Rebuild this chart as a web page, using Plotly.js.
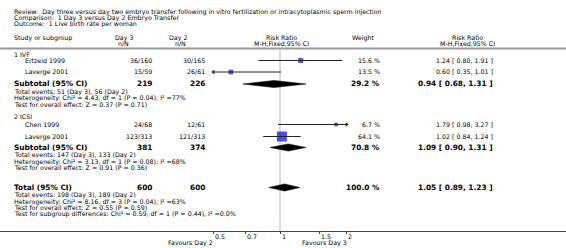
<!DOCTYPE html>
<html><head><meta charset="utf-8">
<script src="https://cdn.plot.ly/plotly-3.0.1.min.js"></script>
<style>html,body{margin:0;padding:0;background:#fff}#chart{width:566px;height:248px}</style>
</head><body><div id="chart"></div>
<script>
// ---- data ----
const titleLines = ["Review:  Day three versus day two embryo transfer following in vitro fertilization or intracytoplasmic sperm injection",
  "Comparison:  1 Day 3 versus Day 2 Embryo Transfer",
  "Outcome:  1 Live birth rate per woman"];
const groupNames = ["1 IVF", "2 ICSI"];
const studyNames = ["Ertzeid 1999", "Laverge 2001", "Chen 1999", "Laverge 2001"];
const studyGroup = [0, 0, 1, 1];
const day3nN = ["36/160", "15/59", "24/68", "123/313"];
const day2nN = ["30/165", "26/61", "12/61", "121/313"];
const studyWeight = [15.6, 13.5, 6.7, 64.1];
const studyRR = [1.24, 0.60, 1.79, 1.02];
const studyLo = [0.80, 0.35, 0.98, 0.84];
const studyHi = [1.91, 1.01, 3.27, 1.24];
const subN3 = [219, 381];
const subN2 = [226, 374];
const subWeight = [29.2, 70.8];
const subRR = [0.94, 1.09];
const subLo = [0.68, 0.90];
const subHi = [1.31, 1.31];
const subNotes = [
  ["Total events: 51 (Day 3), 56 (Day 2)", "Heterogeneity: Chi² = 4.43, df = 1 (P = 0.04); I² =77%", "Test for overall effect: Z = 0.37 (P = 0.71)"],
  ["Total events: 147 (Day 3), 133 (Day 2)", "Heterogeneity: Chi² = 3.13, df = 1 (P = 0.08); I² =68%", "Test for overall effect: Z = 0.91 (P = 0.36)"]
];
const totN3 = 600, totN2 = 600, totWeight = 100.0, totRR = 1.05, totLo = 0.89, totHi = 1.23;
const totNotes = ["Total events: 198 (Day 3), 189 (Day 2)", "Heterogeneity: Chi² = 8.16, df = 3 (P = 0.04); I² =63%",
  "Test for overall effect: Z = 0.55 (P = 0.59)", "Test for subgroup differences: Chi² = 0.59, df = 1 (P = 0.44), I² =0.0%"];
const tickVals = [0.5, 0.7, 1, 1.5, 2];
const tickLabels = ["0.5", "0.7", "1", "1.5", "2"];
const favLeft = "Favours Day 2", favRight = "Favours Day 3";

// ---- layout helpers ----
const W = 566, H = 248, AXY = 231;
const FONT = "DejaVu Sans, Verdana, sans-serif";
const fs = 6.3, fsB = 7.4;
const XMIN = 0.5, XMAX = 2;
const ann = [];
function txt(t, px, py, anchor, size, bold) {
  ann.push({text: bold ? "<b>" + t + "</b>" : t, xref: "paper", yref: "paper", x: px / W, y: 1 - py / H,
    xanchor: anchor, yanchor: "middle", showarrow: false, borderpad: 0,
    font: {family: FONT, size: size || fs, color: "#000"}});
}
const fmt = (v) => v.toFixed(2);
const rrText = (r, l, h) => fmt(r) + " [ " + fmt(l) + ", " + fmt(h) + " ]";
const COL = {name0: 13, name1: 24, d3: 153, d2: 206, w: 381, rr: 494};

// row positions (pixel rows from top)
const studyY = [60.5, 72, 124.5, 136.5];
const groupY = [54.5, 116.5];
const subY = [84, 147.5];
const totY = 187.5;
const noteOff = 7.8, noteStep = 6.3;

titleLines.forEach((t, i) => txt(t, 13, 11.5 + i * 6.4, "left", 6.3));
txt("Study or subgroup", 13, 37.5, "left");
txt("Day 3", 124, 37.5, "center"); txt("n/N", 123, 43.3, "center");
txt("Day 2", 178, 37.5, "center"); txt("n/N", 180, 43.3, "center");
txt("Risk Ratio", 281, 37.5, "center"); txt("M-H,Fixed,95% CI", 281, 43.3, "center");
txt("Weight", 363, 37.5, "center");
txt("Risk Ratio", 467, 37.5, "center"); txt("M-H,Fixed,95% CI", 467, 43.3, "center");

groupNames.forEach((g, i) => txt(g, COL.name0, groupY[i], "left"));
studyNames.forEach((s, i) => {
  const y = studyY[i];
  txt(s, COL.name1, y, "left");
  txt(day3nN[i], COL.d3, y, "right");
  txt(day2nN[i], COL.d2, y, "right");
  txt(studyWeight[i].toFixed(1) + " %", COL.w, y, "right");
  txt(rrText(studyRR[i], studyLo[i], studyHi[i]), COL.rr, y, "right");
});
subN3.forEach((n, i) => {
  const y = subY[i];
  txt("Subtotal (95% CI)", COL.name0, y, "left", fsB, true);
  txt(String(n), COL.d3, y, "right", fsB, true);
  txt(String(subN2[i]), COL.d2, y, "right", fsB, true);
  txt(subWeight[i].toFixed(1) + " %", COL.w, y, "right", fsB, true);
  txt(rrText(subRR[i], subLo[i], subHi[i]), COL.rr, y, "right", fsB, true);
  subNotes[i].forEach((t, k) => txt(t, COL.name0, y + noteOff + k * noteStep, "left"));
});
txt("Total (95% CI)", COL.name0, totY, "left", fsB, true);
txt(String(totN3), COL.d3, totY, "right", fsB, true);
txt(String(totN2), COL.d2, totY, "right", fsB, true);
txt(totWeight.toFixed(1) + " %", COL.w, totY, "right", fsB, true);
txt(rrText(totRR, totLo, totHi), COL.rr, totY, "right", fsB, true);
totNotes.forEach((t, k) => txt(t, COL.name0, totY + noteOff + k * noteStep, "left"));
txt(favLeft, 190, 243, "center");
txt(favRight, 324, 243, "center");
// tick labels placed on the x scale, just right of each tick
tickVals.forEach((v, i) => ann.push({text: tickLabels[i], xref: "x", yref: "paper", x: Math.log10(v), y: 1 - 236.8 / H,
  xanchor: "left", yanchor: "middle", xshift: 0.5, showarrow: false, borderpad: 0,
  font: {family: FONT, size: fs, color: "#000"}}));

// ---- traces ----
const clip = (v) => Math.min(XMAX, Math.max(XMIN, v));
const ciX = [], ciY = [], arrL = {x: [], y: []}, arrR = {x: [], y: []};
studyRR.forEach((r, i) => {
  ciX.push(clip(studyLo[i]), clip(studyHi[i]), null);
  ciY.push(studyY[i], studyY[i], null);
  if (studyLo[i] < XMIN) { arrL.x.push(XMIN); arrL.y.push(studyY[i]); }
  if (studyHi[i] > XMAX) { arrR.x.push(XMAX); arrR.y.push(studyY[i]); }
});
const traces = [];
traces.push({type: "scatter", mode: "markers", x: studyRR, y: studyY, hoverinfo: "skip",
  marker: {symbol: "square", color: "#0000ff", size: studyWeight.map(w => Math.max(3.6, 1.25 * Math.sqrt(w))),
    line: {width: 0}}});
traces.push({type: "scatter", mode: "lines", x: ciX, y: ciY, hoverinfo: "skip",
  line: {color: "#222", width: 1}});
traces.push({type: "scatter", mode: "markers", x: arrL.x, y: arrL.y, hoverinfo: "skip",
  marker: {symbol: "triangle-left", size: 4, color: "#222"}});
traces.push({type: "scatter", mode: "markers", x: arrR.x, y: arrR.y, hoverinfo: "skip",
  marker: {symbol: "triangle-right", size: 4, color: "#222"}});
const dh = 3.6;
function diamond(r, l, h, y) {
  traces.push({type: "scatter", mode: "lines", fill: "toself", fillcolor: "#000", hoverinfo: "skip",
    x: [l, r, h, r, l], y: [y, y - dh, y, y + dh, y], line: {color: "#000", width: 0.5}});
}
subRR.forEach((r, i) => diamond(r, subLo[i], subHi[i], subY[i]));
diamond(totRR, totLo, totHi, totY);

// x range so that 1 sits at px 280 and 0.5..2 spans px 213..347
const pxPerDec = 221.6, px1 = 280;
const xr = [-px1 / pxPerDec, (W - px1) / pxPerDec];

const layout = {
  width: W, height: H, margin: {l: 0, r: 0, t: 0, b: 0}, showlegend: false,
  paper_bgcolor: "#fff", plot_bgcolor: "#fff",
  font: {family: FONT, size: fs, color: "#000"},
  xaxis: {type: "log", range: xr, domain: [0, 1], showgrid: false, zeroline: false,
    showline: true, linecolor: "#444", linewidth: 1,
    tickmode: "array", tickvals: tickVals, ticks: "outside", ticklen: 2,
    tickcolor: "#444", tickwidth: 1, showticklabels: false, fixedrange: true},
  yaxis: {range: [AXY, 0], domain: [(H - AXY) / H, 1], visible: false, fixedrange: true},
  shapes: [
    {type: "line", xref: "paper", yref: "y", x0: 0, x1: 1, y0: 48.6, y1: 48.6, line: {color: "#9a9a9a", width: 2}, layer: "below"},
    {type: "line", xref: "x", yref: "y", x0: 1, x1: 1, y0: 49.6, y1: AXY, line: {color: "#dcdcdc", width: 2}, layer: "below"}
  ],
  annotations: ann
};
Plotly.newPlot("chart", traces, layout, {staticPlot: true, displayModeBar: false});
</script></body></html>
